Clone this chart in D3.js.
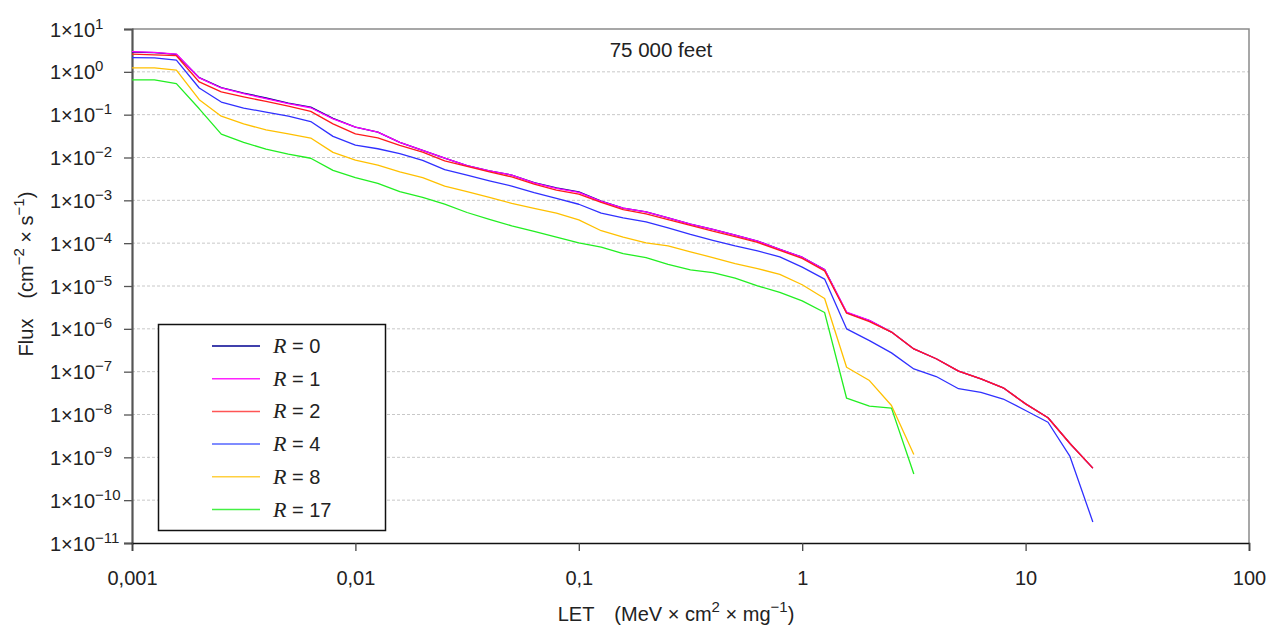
<!DOCTYPE html>
<html>
<head>
<meta charset="utf-8">
<title>Flux vs LET, 75 000 feet</title>
<script src="https://d3js.org/d3.v7.min.js"></script>
<style>
  body { margin: 0; background: #fff; }
  svg { display: block; font-family: "Liberation Sans", Arial, sans-serif; }
</style>
</head>
<body>
<svg id="chart" width="1279" height="635"></svg>
<script>
// LET grid (MeV x cm2 / mg)
const letValues = [0.001,0.00126,0.00158,0.002,0.00251,0.00316,0.00398,0.00501,0.00631,0.00794,
  0.01,0.0126,0.0158,0.02,0.0251,0.0316,0.0398,0.0501,0.0631,0.0794,
  0.1,0.126,0.158,0.2,0.251,0.316,0.398,0.501,0.631,0.794,
  1,1.26,1.58,2,2.51,3.16,3.98,5.01,6.31,7.94,
  10,12.6,15.8,20];

// flux values per curve
const fluxR0 = [2.9,2.8,2.55,0.73,0.43,0.32,0.245,0.187,0.15,0.082,
  0.051,0.039,0.0226,0.0147,0.0097,0.0065,0.0049,0.0039,0.0026,0.00195,
  0.00158,9.6e-4,6.6e-4,5.4e-4,3.9e-4,2.8e-4,2.1e-4,1.54e-4,1.12e-4,7.2e-5,
  4.7e-5,2.43e-5,2.4e-6,1.55e-6,8.4e-7,3.4e-7,2.0e-7,1.03e-7,6.8e-8,4.2e-8,
  1.77e-8,8.4e-9,2.1e-9,5.6e-10];
const fluxR1 = [2.95,2.85,2.6,0.72,0.42,0.31,0.236,0.18,0.145,0.08,
  0.051,0.039,0.0226,0.0147,0.0097,0.0065,0.0049,0.0039,0.00256,0.0019,
  0.00153,9.5e-4,6.6e-4,5.4e-4,3.9e-4,2.8e-4,2.1e-4,1.54e-4,1.12e-4,7.2e-5,
  4.7e-5,2.43e-5,2.45e-6,1.57e-6,8.4e-7,3.4e-7,2.0e-7,1.03e-7,6.8e-8,4.2e-8,
  1.77e-8,8.4e-9,2.1e-9,5.6e-10];
const fluxR2 = [2.6,2.5,2.38,0.58,0.34,0.26,0.204,0.158,0.119,0.061,
  0.0355,0.0288,0.0191,0.0134,0.0083,0.0062,0.0046,0.00353,0.00239,0.00173,
  0.0014,9.0e-4,6.1e-4,4.8e-4,3.55e-4,2.6e-4,1.9e-4,1.43e-4,1.04e-4,6.8e-5,
  4.4e-5,2.25e-5,2.32e-6,1.48e-6,8.4e-7,3.4e-7,2.0e-7,1.03e-7,6.8e-8,4.2e-8,
  1.77e-8,8.4e-9,2.1e-9,5.6e-10];
const fluxR4 = [2.14,2.11,1.88,0.42,0.197,0.142,0.115,0.092,0.069,0.0312,
  0.0195,0.016,0.0123,0.0086,0.0052,0.0039,0.00286,0.00215,0.00151,0.00111,
  8.1e-4,5.0e-4,3.9e-4,3.14e-4,2.28e-4,1.6e-4,1.16e-4,8.6e-5,6.6e-5,4.8e-5,
  2.75e-5,1.45e-5,1.0e-6,5.3e-7,2.75e-7,1.16e-7,7.7e-8,4.0e-8,3.3e-8,2.3e-8,
  1.24e-8,6.6e-9,1.05e-9,3.1e-11];
const fluxR8 = [1.24,1.24,1.1,0.224,0.092,0.061,0.044,0.0355,0.0285,0.0132,
  0.0087,0.0066,0.0046,0.0034,0.00215,0.00159,0.00117,8.5e-4,6.5e-4,5.0e-4,
  3.5e-4,1.95e-4,1.38e-4,1.02e-4,8.6e-5,6.3e-5,4.6e-5,3.33e-5,2.55e-5,1.86e-5,
  1.07e-5,5.1e-6,1.27e-7,6.2e-8,1.62e-8,1.16e-9];
const fluxR17 = [0.65,0.65,0.53,0.137,0.035,0.0225,0.0157,0.012,0.0096,0.005,
  0.0034,0.00248,0.00159,0.00117,8.2e-4,5.2e-4,3.6e-4,2.54e-4,1.88e-4,1.39e-4,
  1.01e-4,8.1e-5,5.7e-5,4.6e-5,3.2e-5,2.38e-5,2.06e-5,1.52e-5,1.01e-5,7.1e-6,
  4.5e-6,2.4e-6,2.4e-8,1.57e-8,1.41e-8,4.1e-10];

const seriesNames = ["0", "1", "2", "4", "8", "17"];
const seriesData = [fluxR0, fluxR1, fluxR2, fluxR4, fluxR8, fluxR17];
const seriesColors = ["#000090", "#ff00ff", "#ff1a1a", "#3030ff", "#ffc000", "#22ee22"];
const legendColors = ["#000090", "#ff22ff", "#ff5555", "#5566ff", "#ffd040", "#44f044"];

const xTicks = [0.001, 0.01, 0.1, 1, 10, 100];
const xTickLabels = ["0,001", "0,01", "0,1", "1", "10", "100"];
const yExponents = [1, 0, -1, -2, -3, -4, -5, -6, -7, -8, -9, -10, -11];

const svg = d3.select("#chart");
const plotL = 132, plotR = 1249, plotT = 29, plotB = 543;

const x = d3.scaleLog().domain([0.001, 100]).range([plotL, plotR]);
const y = d3.scaleLog().domain([1e-11, 1e1]).range([plotB, plotT]);

// grid
svg.append("g").selectAll("line")
  .data(yExponents.slice(1, -1))
  .join("line")
  .attr("x1", plotL).attr("x2", plotR)
  .attr("y1", d => y(Math.pow(10, d))).attr("y2", d => y(Math.pow(10, d)))
  .attr("stroke", "#c8c8c8").attr("stroke-width", 1)
  .attr("stroke-dasharray", "3,2");

// frame top/right
svg.append("path")
  .attr("d", `M${plotL},${plotT}H${plotR}V${plotB}`)
  .attr("fill", "none").attr("stroke", "#8a8a8a").attr("stroke-width", 1.5);

// y axis
const yAxis = svg.append("g")
  .attr("transform", `translate(${plotL},0)`)
  .call(d3.axisLeft(y).tickValues(yExponents.map(e => Math.pow(10, e))).tickSize(8).tickFormat(""));
yAxis.select(".domain").attr("stroke", "#555").attr("stroke-width", 2.2);
yAxis.selectAll(".tick line").attr("stroke", "#555").attr("stroke-width", 1.3);
yAxis.selectAll(".tick").each(function(d) {
  const e = Math.round(Math.log10(d));
  const t = d3.select(this).append("text")
    .attr("x", 50 - plotL).attr("y", 7)
    .attr("text-anchor", "start")
    .attr("fill", "#222").attr("font-size", 20);
  t.append("tspan").text("1×10");
  t.append("tspan").attr("dy", -8).attr("font-size", 15)
    .text(e < 0 ? "\u2212" + (-e) : String(e));
});

// x axis
const xAxis = svg.append("g")
  .attr("transform", `translate(0,${plotB})`)
  .call(d3.axisBottom(x).tickValues(xTicks).tickSize(8)
    .tickFormat((d, i) => xTickLabels[i]));
xAxis.select(".domain").attr("stroke", "#111").attr("stroke-width", 1.6);
xAxis.selectAll(".tick line").attr("stroke", "#444").attr("stroke-width", 1.3);
xAxis.selectAll(".tick text").attr("font-size", 20).attr("fill", "#222")
  .attr("dy", 0).attr("y", 42);

// curves
const line = d3.line().x(d => x(d[0])).y(d => y(d[1]));
seriesData.forEach((vals, k) => {
  svg.append("path")
    .datum(vals.map((v, i) => [letValues[i], v]))
    .attr("d", line)
    .attr("fill", "none")
    .attr("stroke", seriesColors[k])
    .attr("stroke-width", 1.3)
    .attr("stroke-linejoin", "round");
});

// title
svg.append("text").attr("x", 661).attr("y", 57)
  .attr("text-anchor", "middle").attr("font-size", 20.5).attr("fill", "#222")
  .text("75 000 feet");

// axis titles
const xt = svg.append("text").attr("x", 676).attr("y", 621)
  .attr("text-anchor", "middle").attr("font-size", 20).attr("fill", "#222");
xt.append("tspan").text("LET\u2003(MeV × cm");
xt.append("tspan").attr("dy", -9).attr("font-size", 15).text("2");
xt.append("tspan").attr("dy", 9).text(" × mg");
xt.append("tspan").attr("dy", -9).attr("font-size", 15).text("\u22121");
xt.append("tspan").attr("dy", 9).text(")");

const yt = svg.append("text")
  .attr("transform", "translate(33,274) rotate(-90)")
  .attr("text-anchor", "middle").attr("font-size", 20).attr("fill", "#222");
yt.append("tspan").text("Flux\u2003(cm");
yt.append("tspan").attr("dy", -9).attr("font-size", 15).text("\u22122");
yt.append("tspan").attr("dy", 9).text(" × s");
yt.append("tspan").attr("dy", -9).attr("font-size", 15).text("\u22121");
yt.append("tspan").attr("dy", 9).text(")");

// legend
const lg = svg.append("g");
lg.append("rect").attr("x", 158.5).attr("y", 324.5).attr("width", 227).attr("height", 206)
  .attr("fill", "#fff").attr("stroke", "#111").attr("stroke-width", 1.5);
seriesNames.forEach((name, k) => {
  const yy = 346 + k * 32.7;
  lg.append("line").attr("x1", 212).attr("x2", 260).attr("y1", yy).attr("y2", yy)
    .attr("stroke", legendColors[k]).attr("stroke-width", 1.5);
  const t = lg.append("text").attr("x", 273).attr("y", yy + 7)
    .attr("font-size", 20).attr("fill", "#222");
  t.append("tspan").attr("font-family", "'Liberation Serif', serif")
    .attr("font-style", "italic").attr("font-size", 22).text("R");
  t.append("tspan").text(" = " + name);
});
</script>
</body>
</html>
